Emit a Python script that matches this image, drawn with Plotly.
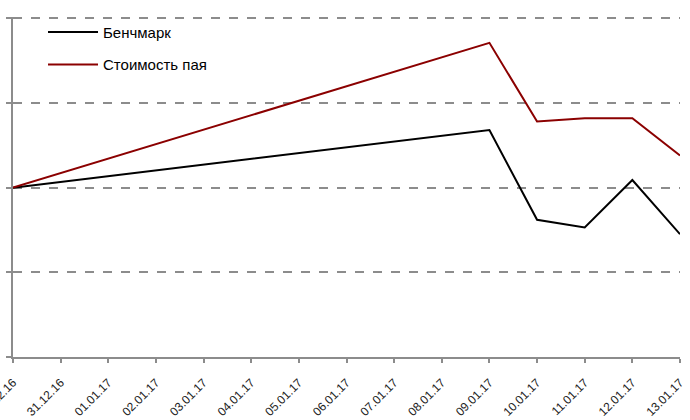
import plotly.graph_objects as go

# Trading dates and index values for the two series
dates = ["2016-12-30", "2017-01-09", "2017-01-10", "2017-01-11", "2017-01-12", "2017-01-13"]
benchmark = [100.0, 100.68, 99.62, 99.53, 100.09, 99.45]
fund_unit = [100.0, 101.71, 100.78, 100.82, 100.82, 100.38]
series_names = ["Бенчмарк", "Стоимость пая"]

fig = go.Figure()
fig.add_trace(go.Scatter(x=dates, y=benchmark, name=series_names[0], mode="lines",
                         legendgroup="a", line=dict(color="#000000", width=2)))
fig.add_trace(go.Scatter(x=dates, y=fund_unit, name=series_names[1], mode="lines",
                         legendgroup="b", line=dict(color="#8B0000", width=2)))

fig.update_layout(
    width=690, height=420,
    margin=dict(l=13, r=10, t=17, b=63),
    paper_bgcolor="white", plot_bgcolor="white",
    font=dict(family="Liberation Sans, Arial, sans-serif", color="#000000"),
    showlegend=True,
    legend=dict(x=0.045, y=1.004, xanchor="left", yanchor="top",
                bgcolor="rgba(0,0,0,0)", font=dict(size=15),
                itemwidth=50, tracegroupgap=10),
    xaxis=dict(
        type="date", range=["2016-12-30", "2017-01-13"],
        dtick=86400000, tick0="2016-12-30", tickformat="%d.%m.%y",
        tickangle=-45, tickfont=dict(size=12, color="#222222"),
        ticklabeloverflow="allow", ticklabelstandoff=8,
        showgrid=False, zeroline=False,
        showline=True, linecolor="#8c8c8c", linewidth=2,
        ticks="outside", ticklen=4, tickcolor="#8c8c8c", tickwidth=2,
        automargin=False,
    ),
    yaxis=dict(
        range=[98, 102.015], tick0=98, dtick=1, showticklabels=False,
        showgrid=True, gridcolor="#8c8c8c", gridwidth=2, griddash="dash",
        zeroline=False,
        showline=True, linecolor="#8c8c8c", linewidth=2,
        ticks="outside", ticklen=5, tickcolor="#8c8c8c", tickwidth=2,
        automargin=False,
    ),
)

fig.write_html("out.html")
